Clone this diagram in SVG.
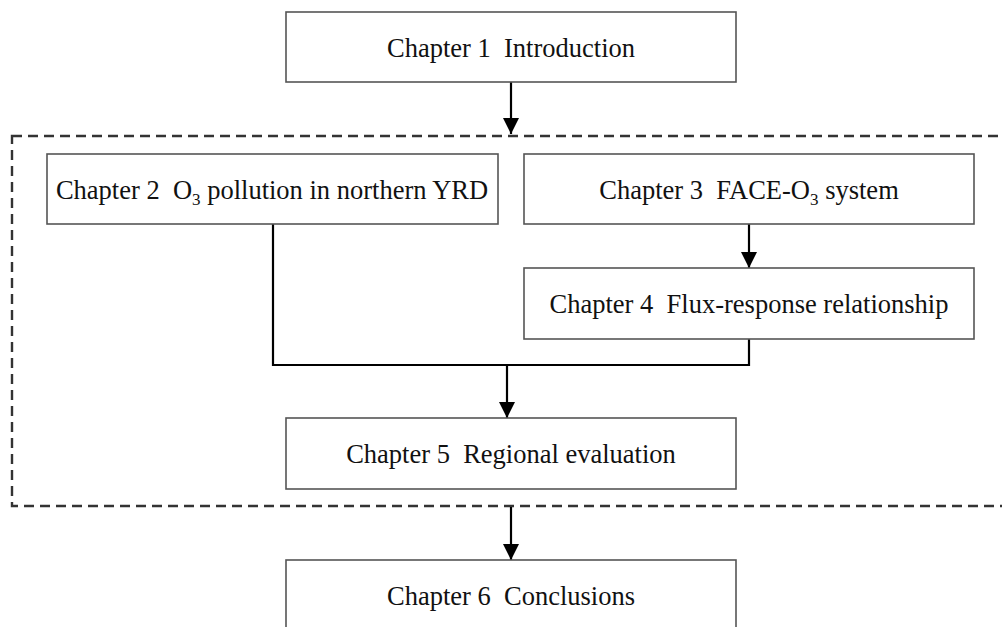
<svg xmlns="http://www.w3.org/2000/svg" width="1002" height="627" viewBox="0 0 1002 627">
<style>
.box{fill:#fff;stroke:#555;stroke-width:1.6}
.lbl{font-family:"Liberation Serif","Times New Roman",serif;font-size:26.5px;fill:#111;text-anchor:middle}
.sub{font-size:17px}
.con{fill:none;stroke:#000;stroke-width:2.2}
.frame{fill:none;stroke:#333;stroke-width:2.4;stroke-dasharray:10 6}
</style>
<defs>
<marker id="arr" markerUnits="userSpaceOnUse" markerWidth="16" markerHeight="16" viewBox="0 0 16 16" refX="16" refY="8" orient="auto">
<path d="M0,0 L16,8 L0,16 Z" fill="#000"/>
</marker>
</defs>
<rect fill="#fff" width="1002" height="627"/>
<rect class="frame" x="12" y="136" width="1010" height="370"/>
<g id="connectors">
<path class="con" d="M511,82 V134" marker-end="url(#arr)"/>
<path class="con" d="M749,224 V268" marker-end="url(#arr)"/>
<path class="con" d="M273,224 V365 H749 V339"/>
<path class="con" d="M507,365 V418" marker-end="url(#arr)"/>
<path class="con" d="M511,507 V560" marker-end="url(#arr)"/>
</g>
<g id="ch1">
<rect class="box" x="286" y="12" width="450" height="70"/>
<text class="lbl" x="511" y="57">Chapter 1&#160; Introduction</text>
</g>
<g id="ch2">
<rect class="box" x="47" y="154" width="451" height="70"/>
<text class="lbl" x="272" y="199">Chapter 2&#160; O<tspan class="sub" dy="6">3</tspan><tspan dy="-6"> pollution in northern YRD</tspan></text>
</g>
<g id="ch3">
<rect class="box" x="524" y="154" width="450" height="70"/>
<text class="lbl" x="749" y="199">Chapter 3&#160; FACE-O<tspan class="sub" dy="6">3</tspan><tspan dy="-6"> system</tspan></text>
</g>
<g id="ch4">
<rect class="box" x="524" y="268" width="450" height="71"/>
<text class="lbl" x="749" y="313">Chapter 4&#160; Flux-response relationship</text>
</g>
<g id="ch5">
<rect class="box" x="286" y="418" width="450" height="71"/>
<text class="lbl" x="511" y="463">Chapter 5&#160; Regional evaluation</text>
</g>
<g id="ch6">
<rect class="box" x="286" y="560" width="450" height="71"/>
<text class="lbl" x="511" y="605">Chapter 6&#160; Conclusions</text>
</g>
</svg>
